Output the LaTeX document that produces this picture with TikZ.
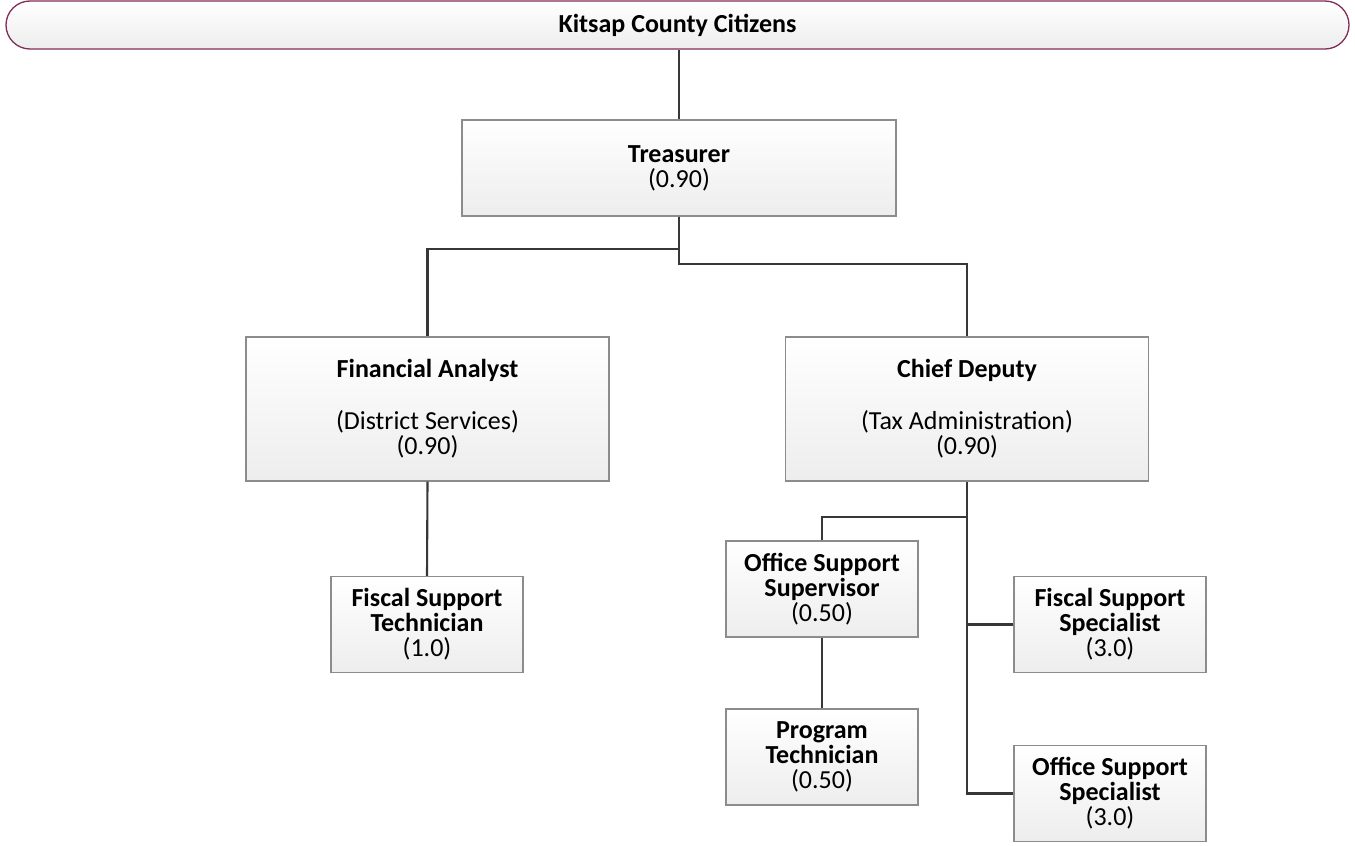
\documentclass[tikz,border=0pt]{standalone}
\usepackage{fontspec}
\setmainfont{Carlito}
\definecolor{connc}{RGB}{55,55,55}
\definecolor{boxline}{RGB}{140,140,140}
\definecolor{boxbot}{RGB}{237,237,237}
\definecolor{banline}{RGB}{128,45,88}
\begin{document}
\begin{tikzpicture}[x=1pt,y=-1pt,
  conn/.style={draw=connc, line width=2.1pt},
  box/.style={draw=boxline, line width=1.3pt, top color=white, bottom color=boxbot,
    align=center, inner sep=0pt, anchor=center, font=\fontsize{26}{25}\selectfont},
  bigbox/.style={box, minimum width=363pt, minimum height=144pt},
  smallbox/.style={box, minimum width=192pt, minimum height=96pt},
]
\useasboundingbox (0,0) rectangle (1355,846);
% banner
\node[draw=banline, line width=1.3pt, rounded corners=24pt, top color=white, bottom color=boxbot,
  minimum width=1343pt, minimum height=48pt, inner sep=0pt,
  font=\fontsize{26}{25}\selectfont\bfseries] (banner) at (677.5,25) {Kitsap County Citizens};
% boxes
\node[box, minimum width=434pt, minimum height=96pt] (treas) at (679,168) {\textbf{Treasurer}\\(0.90)};
\node[bigbox] (fa) at (427.5,409) {\textbf{Financial Analyst}\\[27pt](District Services)\\(0.90)};
\node[bigbox] (cd) at (967,409) {\textbf{Chief Deputy}\\[27pt](Tax Administration)\\(0.90)};
\node[smallbox] (fst) at (427,624.5) {\textbf{Fiscal Support}\\\textbf{Technician}\\(1.0)};
\node[smallbox] (osup) at (822,589) {\textbf{Office Support}\\\textbf{Supervisor}\\(0.50)};
\node[smallbox] (pt) at (822,757) {\textbf{Program}\\\textbf{Technician}\\(0.50)};
\node[smallbox] (fss) at (1110,624.5) {\textbf{Fiscal Support}\\\textbf{Specialist}\\(3.0)};
\node[smallbox] (oss) at (1110,793.5) {\textbf{Office Support}\\\textbf{Specialist}\\(3.0)};
% connectors
\draw[conn] (treas.north) -- (treas.north |- banner.south);
\draw[conn] (treas.south) |- (0,249 -| fa.north) -- (fa.north);
\draw[conn] (treas.south) |- (0,264 -| cd.north) -- (cd.north);
\draw[conn] (fa.south) -- (fst.north);
\draw[conn] (cd.south) |- (oss.west);
\draw[conn] (cd.south |- 0,517) -| (osup.north);
\draw[conn] (fss.west) -- (fss.west -| cd.south);
\draw[conn] (osup.south) -- (pt.north);
\end{tikzpicture}
\end{document}
